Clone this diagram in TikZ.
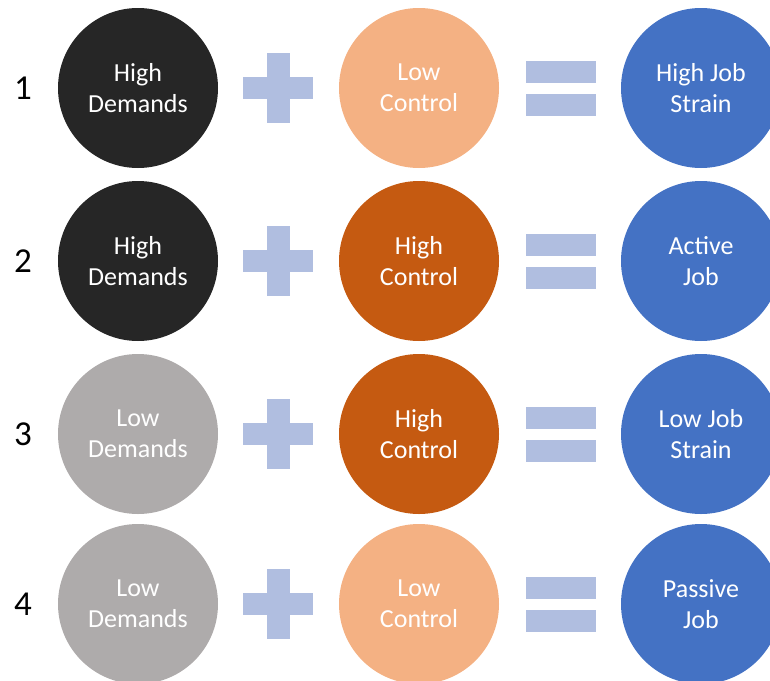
\documentclass[tikz,border=0pt]{standalone}
\usepackage{fontspec}
\setmainfont{Carlito}
\definecolor{demhi}{HTML}{262626}
\definecolor{demlo}{HTML}{AEABAB}
\definecolor{ctlhi}{HTML}{C55A11}
\definecolor{ctllo}{HTML}{F4B183}
\definecolor{outc}{HTML}{4472C4}
\definecolor{opc}{HTML}{B0BEE0}
\begin{document}
\begin{tikzpicture}[x=1pt,y=-1pt,
  ball/.style={circle,minimum size=160pt,inner sep=0pt,align=center,text=white,font=\fontsize{26}{31}\selectfont},
  num/.style={font=\fontsize{35}{40}\selectfont},
  hbar/.style={fill=opc,inner sep=0pt,minimum width=70pt,minimum height=22pt},
  vbar/.style={fill=opc,inner sep=0pt,minimum width=23pt,minimum height=70pt}]
\useasboundingbox (0,0) rectangle (770,680);
\clip (0,0) rectangle (770,680);
% row 1
\node[num] (n1) at (23,88){1};\node[ball,fill=demhi] (d1) at (138,88){High\\Demands};
\node[hbar] (ph1) at (278,88){};\node[vbar] (pv1) at (278,88){};
\node[ball,fill=ctllo] (c1) at (419,88){Low\\Control};
\node[hbar] (ea1) at (561,72){};\node[hbar] (eb1) at (561,105){};
\node[ball,fill=outc] (o1) at (701,88){High Job\\Strain};
% row 2
\node[num] (n2) at (23,261){2};\node[ball,fill=demhi] (d2) at (138,261){High\\Demands};
\node[hbar] (ph2) at (278,261){};\node[vbar] (pv2) at (278,261){};
\node[ball,fill=ctlhi] (c2) at (419,261){High\\Control};
\node[hbar] (ea2) at (561,245){};\node[hbar] (eb2) at (561,278){};
\node[ball,fill=outc] (o2) at (701,261){Active\\Job};
% row 3
\node[num] (n3) at (23,434){3};\node[ball,fill=demlo] (d3) at (138,434){Low\\Demands};
\node[hbar] (ph3) at (278,434){};\node[vbar] (pv3) at (278,434){};
\node[ball,fill=ctlhi] (c3) at (419,434){High\\Control};
\node[hbar] (ea3) at (561,418){};\node[hbar] (eb3) at (561,451){};
\node[ball,fill=outc] (o3) at (701,434){Low Job\\Strain};
% row 4
\node[num] (n4) at (23,604){4};\node[ball,fill=demlo] (d4) at (138,604){Low\\Demands};
\node[hbar] (ph4) at (278,604){};\node[vbar] (pv4) at (278,604){};
\node[ball,fill=ctllo] (c4) at (419,604){Low\\Control};
\node[hbar] (ea4) at (561,588){};\node[hbar] (eb4) at (561,621){};
\node[ball,fill=outc] (o4) at (701,604){Passive\\Job};
\end{tikzpicture}
\end{document}
